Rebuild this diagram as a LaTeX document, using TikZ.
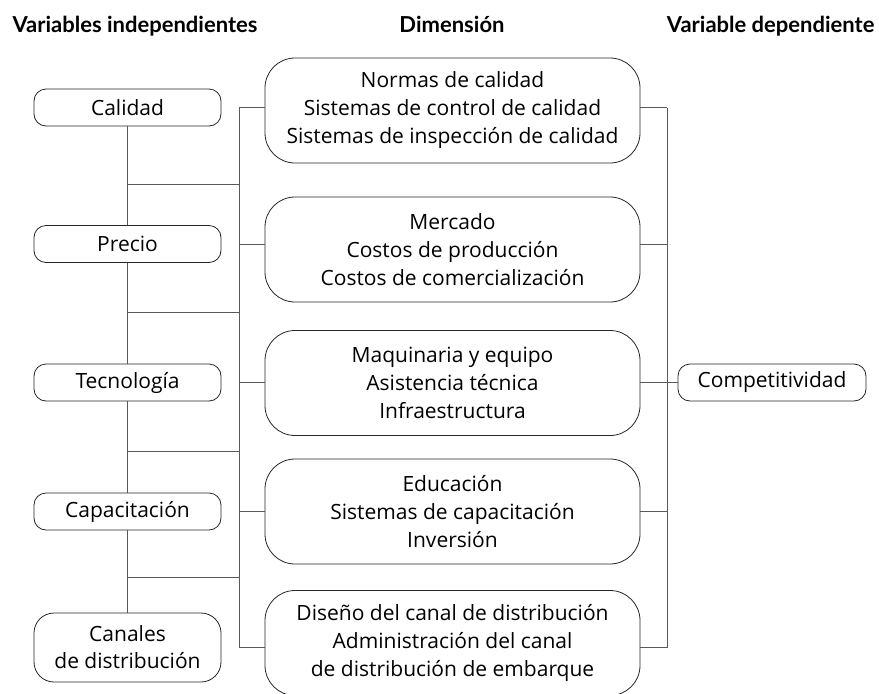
\documentclass[tikz,border=0pt]{standalone}
\usepackage{fontspec}
\setmainfont{Open Sans}
\newfontfamily\headfont{Lato}
\usepackage{tikz}
\usetikzlibrary{positioning,calc}

\tikzset{
    varbox/.style  = {draw=black!85, thick, rounded corners=12pt, minimum width=187pt,
                      minimum height=37pt, inner sep=1pt, align=center,
                      font=\fontsize{21}{27}\selectfont},
    dimbox/.style  = {draw=black!85, thick, rounded corners=30pt, minimum width=375pt,
                      minimum height=105pt, inner sep=1pt, align=center,
                      font=\fontsize{21}{28}\selectfont},
    head/.style    = {font=\headfont\bfseries\fontsize{22}{24}\selectfont, anchor=base},
    link/.style    = {draw=black!65, thick},
}

\begin{document}
\begin{tikzpicture}[x=1pt, y=-1pt]
    \useasboundingbox (0,0) rectangle (879,694);
    % Headers -----------------------------------------------------------
    \node[head, anchor=base west] (hind) at (9,32)   {Variables independientes};
    \node[head]                   (hdim) at (452,32) {Dimensión};
    \node[head, anchor=base east] (hdep) at (878,32) {Variable dependiente};

    % Independent variables ---------------------------------------------
    \node[varbox] (cal) at (127.5,107.5) {Calidad};
    \node[varbox] (pre) at (127.5,244)   {Precio};
    \node[varbox] (tec) at (127.5,382.5) {Tecnología};
    \node[varbox] (cap) at (127.5,511.5) {Capacitación};
    \node[varbox, minimum height=69pt, rounded corners=20pt]
                  (can) at (127.5,647.5) {Canales\\de distribución};

    % Dimensions ----------------------------------------------------------
    \node[dimbox] (dcal) at (452.5,110.5)
        {Normas de calidad\\Sistemas de control de calidad\\Sistemas de inspección de calidad};
    \node[dimbox] (dpre) at (452.5,249.5)
        {Mercado\\Costos de producción\\Costos de comercialización};
    \node[dimbox] (dtec) at (452.5,383)
        {Maquinaria y equipo\\Asistencia técnica\\Infraestructura};
    \node[dimbox] (dcap) at (452.5,511.5)
        {Educación\\Sistemas de capacitación\\Inversión};
    \node[dimbox] (dcan) at (452.5,643)
        {Diseño del canal de distribución\\Administración del canal\\de distribución de embarque};

    % Dependent variable --------------------------------------------------
    \node[varbox, minimum width=188pt] (comp) at (772,382.5) {Competitividad};

    % Connectors ----------------------------------------------------------
    \coordinate (mbus) at (239,0);
    \coordinate (rbus) at (667,0);
    \coordinate (t1) at (127.5,184);
    \coordinate (t2) at (127.5,312);
    \coordinate (t3) at (127.5,451);
    \coordinate (t4) at (127.5,577);

    \draw[link] (cal) -- (pre) -- (tec) -- (cap) -- (can);
    \foreach \t in {t1,t2,t3,t4}
        \draw[link] (\t) -- (\t -| mbus);
    \draw[link] (cal -| mbus) -- (can -| mbus);
    \draw[link] (cal -| rbus) -- (can -| rbus);
    \foreach \v/\d in {cal/dcal, pre/dpre, tec/dtec, cap/dcap, can/dcan} {
        \draw[link] (\v -| mbus) -- (\v -| \d.west);
        \draw[link] (\v -| \d.east) -- (\v -| rbus);
    }
    \draw[link] (tec -| rbus) -- (comp.west);
\end{tikzpicture}
\end{document}
